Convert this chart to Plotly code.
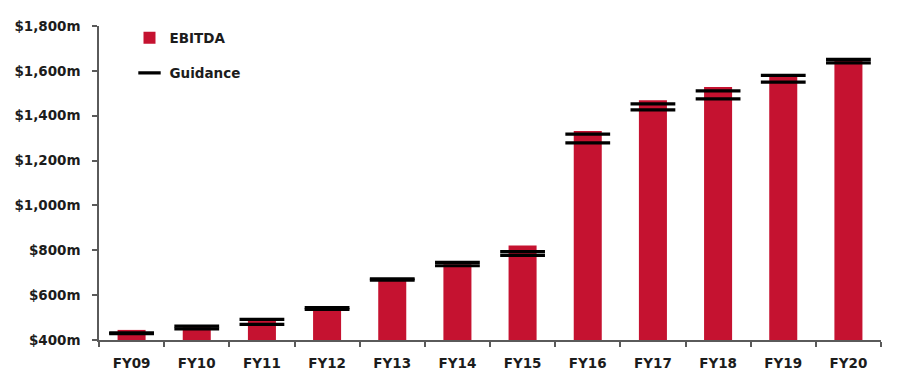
import plotly.graph_objects as go

years = ["FY09", "FY10", "FY11", "FY12", "FY13", "FY14", "FY15", "FY16", "FY17", "FY18", "FY19", "FY20"]
ebitda = [445, 457, 488, 540, 670, 738, 821, 1332, 1469, 1528, 1578, 1646]
guidance_low = [428, 450, 470, 536, 667, 731, 777, 1279, 1426, 1475, 1550, 1636]
guidance_high = [432, 462, 492, 544, 673, 746, 794, 1318, 1453, 1511, 1580, 1651]

y_ticks = [400, 600, 800, 1000, 1200, 1400, 1600, 1800]
y_tick_text = ["$400m", "$600m", "$800m", "$1,000m", "$1,200m", "$1,400m", "$1,600m", "$1,800m"]

FONT = "DejaVu Sans"
TXT = "#1c1c1c"
AX = "#5a5a5a"
RED = "#C51230"

fig = go.Figure()
fig.add_trace(go.Bar(
    x=years, y=[v - 400 for v in ebitda], base=400, name="EBITDA",
    marker=dict(color=RED, line=dict(width=0)),
    legend="legend",
))
fig.add_trace(go.Scatter(
    x=years + years, y=guidance_low + guidance_high, mode="markers", name="Guidance",
    marker=dict(symbol="line-ew", size=32, color="black", line=dict(color="black", width=3.2)),
    legend="legend2", cliponaxis=False,
))

fig.update_layout(
    width=899, height=386,
    margin=dict(l=99, r=18, t=26, b=46),
    paper_bgcolor="white", plot_bgcolor="white",
    font=dict(family=FONT, size=13.5, color=TXT),
    bargap=0.57,
    showlegend=True,
    legend=dict(x=0.039, y=0.962, xanchor="left", yanchor="middle",
                bgcolor="rgba(0,0,0,0)", font=dict(family=FONT, size=13.5, color=TXT, weight="bold")),
    legend2=dict(x=0.039, y=0.850, xanchor="left", yanchor="middle",
                 bgcolor="rgba(0,0,0,0)", font=dict(family=FONT, size=13.5, color=TXT, weight="bold")),
    xaxis=dict(
        type="category", range=[-0.5, len(years) - 0.5], showgrid=False, showline=True,
        linecolor=AX, linewidth=1.5,
        ticks="outside", tickson="boundaries", ticklen=5, tickcolor=AX, tickwidth=1.5,
        tickfont=dict(family=FONT, size=13.5, color=TXT, weight="bold"),
        ticklabelstandoff=10,
    ),
    yaxis=dict(
        range=[400, 1800], tickvals=y_ticks, ticktext=y_tick_text,
        showgrid=False, zeroline=False, showline=True, linecolor=AX, linewidth=1.5,
        ticks="outside", ticklen=5, tickcolor=AX, tickwidth=1.5,
        tickfont=dict(family=FONT, size=13.5, color=TXT, weight="bold"),
        ticklabelstandoff=9,
    ),
)

fig.write_html("out.html", config={"displayModeBar": False},
               post_script="document.body.style.margin='0';document.body.style.overflow='hidden';")
